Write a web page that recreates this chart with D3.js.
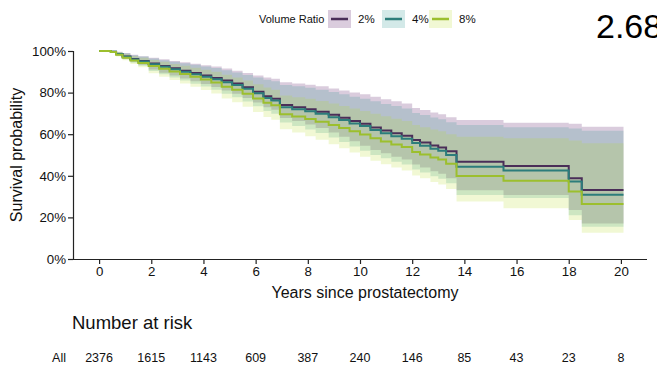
<!DOCTYPE html>
<html>
<head>
<meta charset="utf-8">
<script src="https://cdn.jsdelivr.net/npm/d3@7"></script>
<style>
  body { margin: 0; background: #fff; }
  svg { display: block; font-family: "Liberation Sans", Arial, sans-serif; }
</style>
</head>
<body>
<div id="chart"></div>
<script>
// step times (years) shared by the three model curves
const times = [0, 0.45, 0.65, 0.9, 1.2, 1.5, 1.9, 2.3, 2.7, 3.1, 3.5, 3.9, 4.3, 4.7, 5.1, 5.5, 5.9, 6.3, 6.6, 6.93,
  7.4, 7.9, 8.3, 8.8, 9.2, 9.6, 10.0, 10.4, 10.8, 11.2, 11.6, 12.0, 12.3, 12.7, 13.0, 13.3, 13.7, 15.5, 18.0, 18.5];
const endTime = 20.1;

// survival (%) for each volume ratio
const surv2 = [100, 99.6, 98.6, 97.4, 96.2, 95.2, 94.0, 92.8, 91.7, 90.5, 89.4, 88.2, 87.0, 85.8, 84.4, 82.6, 80.4, 78.2, 77.0, 74.0,
  73.0, 72.0, 70.8, 69.3, 67.9, 66.3, 65.0, 63.2, 61.8, 60.4, 59.2, 57.2, 56.0, 54.6, 53.6, 51.8, 46.8, 44.7, 38.8, 33.2];
const surv4 = [100, 99.6, 98.5, 97.2, 95.9, 94.9, 93.6, 92.4, 91.2, 90.0, 88.8, 87.6, 86.4, 85.0, 83.7, 81.9, 79.7, 77.4, 76.2, 73.0,
  72.0, 71.0, 69.8, 68.2, 66.8, 65.2, 63.9, 62.0, 60.5, 59.0, 57.8, 55.8, 54.5, 53.0, 52.0, 50.0, 44.4, 42.5, 37.2, 30.9];
const surv8 = [100, 99.5, 98.2, 96.8, 95.4, 94.2, 92.8, 91.5, 90.2, 88.9, 87.6, 86.3, 84.9, 82.8, 81.4, 79.5, 77.2, 75.1, 73.9, 69.6,
  68.5, 67.3, 66.0, 64.4, 63.0, 61.4, 59.8, 58.0, 56.5, 55.0, 53.8, 51.5, 50.3, 48.8, 47.8, 45.8, 39.9, 37.6, 32.4, 26.4];

// confidence bands (%)
const upper2 = [100, 100, 99.6, 99.0, 98.2, 97.5, 96.7, 96.0, 95.2, 94.6, 93.9, 93.2, 92.5, 91.6, 90.5, 89.4, 88.2, 87.2, 86.6, 85.0,
  84.4, 83.8, 83.0, 82.0, 81.0, 80.0, 79.2, 78.0, 76.8, 75.8, 74.8, 72.6, 71.6, 70.4, 69.6, 68.2, 66.8, 65.5, 65.0, 63.6];
const lower2 = [100, 99.2, 97.8, 96.3, 94.8, 93.4, 91.1, 89.6, 88.2, 86.8, 85.4, 84.1, 82.7, 81.0, 79.4, 77.4, 75.2, 73.0, 71.8, 67.8,
  66.3, 64.7, 63.0, 60.8, 58.8, 56.6, 54.4, 52.4, 50.8, 49.2, 47.8, 45.4, 44.0, 42.2, 41.0, 38.8, 33.0, 30.8, 23.6, 17.1];
const upper4 = [100, 100, 99.5, 98.9, 98.0, 97.3, 96.4, 95.6, 94.8, 94.1, 93.4, 92.6, 91.8, 90.8, 89.7, 88.5, 87.2, 86.2, 85.5, 83.7,
  83.0, 82.3, 81.4, 80.3, 79.2, 78.0, 77.1, 75.8, 74.5, 73.5, 72.4, 70.2, 69.2, 68.0, 67.2, 65.8, 64.4, 63.3, 62.8, 61.7];
const lower4 = [100, 99.1, 97.6, 96.0, 94.4, 92.9, 90.4, 88.8, 87.3, 85.8, 84.3, 82.9, 81.4, 79.5, 77.8, 75.7, 73.4, 71.1, 69.8, 65.6,
  64.0, 62.3, 60.6, 58.4, 56.3, 54.1, 52.0, 50.0, 48.4, 46.8, 45.4, 43.0, 41.6, 39.8, 38.6, 36.4, 30.8, 29.3, 21.0, 15.5];
const upper8 = [100, 100, 99.4, 98.6, 97.6, 96.8, 95.7, 94.8, 93.8, 92.9, 92.0, 91.0, 90.0, 88.6, 87.2, 85.8, 84.0, 82.4, 81.4, 78.6,
  77.8, 77.0, 76.0, 74.8, 73.6, 72.4, 71.2, 69.8, 68.6, 67.4, 66.4, 64.4, 63.4, 62.2, 61.4, 60.0, 58.8, 58.0, 57.0, 55.6];
const lower8 = [100, 99.0, 97.4, 95.6, 93.8, 92.2, 89.3, 87.6, 86.0, 84.4, 82.8, 81.3, 79.6, 77.2, 75.4, 73.2, 70.7, 68.3, 66.9, 62.4,
  60.8, 59.0, 57.3, 55.2, 53.2, 51.2, 49.2, 47.2, 45.6, 44.0, 42.6, 40.2, 38.8, 37.0, 35.8, 33.6, 27.6, 24.4, 18.8, 12.6];

const groups = ["2%", "4%", "8%"];
const lineColors = ["#4a2e58", "#2c7d7b", "#9cbf2e"];
const bandColors = ["#440154", "#21908c", "#b8de29"];

const xTicks = [0, 2, 4, 6, 8, 10, 12, 14, 16, 18, 20];
const atRisk = [2376, 1615, 1143, 609, 387, 240, 146, 85, 43, 23, 8];

const width = 657, height = 366;
const svg = d3.select("#chart").append("svg")
  .attr("width", width)
  .attr("height", height);

const x = d3.scaleLinear().domain([-1, 21]).range([73, 647]);
const y = d3.scaleLinear().domain([0, 1]).range([259, 51]);

// build series rows, adding the end point so the last step is drawn
function rows(s, lo, hi) {
  const r = times.map((t, i) => ({ t: t, s: s[i] / 100, lo: lo[i] / 100, hi: hi[i] / 100 }));
  const last = r[r.length - 1];
  r.push({ t: endTime, s: last.s, lo: last.lo, hi: last.hi });
  return r;
}
const series = [
  rows(surv2, lower2, upper2),
  rows(surv4, lower4, upper4),
  rows(surv8, lower8, upper8)
];

const area = d3.area()
  .curve(d3.curveStepAfter)
  .x(d => x(d.t))
  .y0(d => y(d.lo))
  .y1(d => y(d.hi));

const line = d3.line()
  .curve(d3.curveStepAfter)
  .x(d => x(d.t))
  .y(d => y(d.s));

// bands
svg.append("g").selectAll("path")
  .data(series)
  .join("path")
  .attr("d", area)
  .attr("fill", (d, i) => bandColors[i])
  .attr("fill-opacity", 0.2);

// survival curves
svg.append("g").selectAll("path")
  .data(series)
  .join("path")
  .attr("d", line)
  .attr("fill", "none")
  .attr("stroke", (d, i) => lineColors[i])
  .attr("stroke-width", 2);

// axes
const yAxis = svg.append("g")
  .attr("transform", "translate(73,0)")
  .call(d3.axisLeft(y).tickValues([0, 0.2, 0.4, 0.6, 0.8, 1]).tickFormat(d3.format(".0%")).tickSize(5).tickPadding(2));
const xAxis = svg.append("g")
  .attr("transform", "translate(0,259)")
  .call(d3.axisBottom(x).tickValues(xTicks).tickSize(5).tickPadding(3));

[xAxis, yAxis].forEach(g => {
  g.select(".domain").attr("stroke", "#222").attr("stroke-width", 1.2);
  g.selectAll(".tick line").attr("stroke", "#222").attr("stroke-width", 1.2);
  g.selectAll(".tick text").attr("fill", "#111").attr("font-size", 13.3)
    .attr("font-family", "Liberation Sans, Arial, sans-serif");
});
// axis lines without end caps
xAxis.select(".domain").attr("d", "M73,0.5H647");
yAxis.select(".domain").attr("d", "M0.5,51V259");

svg.append("text")
  .attr("transform", "translate(22,155) rotate(-90)")
  .attr("text-anchor", "middle")
  .attr("font-size", 16)
  .attr("fill", "#111")
  .text("Survival probability");

svg.append("text")
  .attr("x", 365)
  .attr("y", 298)
  .attr("text-anchor", "middle")
  .attr("font-size", 16)
  .attr("fill", "#111")
  .text("Years since prostatectomy");

// legend
const legend = svg.append("g");
legend.append("text")
  .attr("x", 259).attr("y", 23)
  .attr("font-size", 11)
  .attr("fill", "#111")
  .text("Volume Ratio");
const keyX = [328, 382, 429];
groups.forEach((g, i) => {
  legend.append("rect")
    .attr("x", keyX[i]).attr("y", 10)
    .attr("width", 23).attr("height", 18)
    .attr("fill", bandColors[i]).attr("fill-opacity", 0.2);
  legend.append("line")
    .attr("x1", keyX[i] + 3).attr("x2", keyX[i] + 20)
    .attr("y1", 19).attr("y2", 19)
    .attr("stroke", lineColors[i]).attr("stroke-width", 2.5);
  legend.append("text")
    .attr("x", keyX[i] + 30).attr("y", 23)
    .attr("font-size", 11.5)
    .attr("fill", "#111")
    .text(g);
});

// value shown at top right (partly outside the frame, as in the source)
svg.append("text")
  .attr("x", 596).attr("y", 38)
  .attr("font-size", 34)
  .attr("fill", "#000")
  .text("2.68");

// risk table
svg.append("text")
  .attr("x", 72).attr("y", 329)
  .attr("font-size", 18.5)
  .attr("fill", "#111")
  .text("Number at risk");

svg.append("text")
  .attr("x", 59).attr("y", 362)
  .attr("text-anchor", "middle")
  .attr("font-size", 12.5)
  .attr("fill", "#111")
  .text("All");

svg.append("g").selectAll("text")
  .data(atRisk)
  .join("text")
  .attr("x", (d, i) => x(xTicks[i]))
  .attr("y", 362)
  .attr("text-anchor", "middle")
  .attr("font-size", 12.5)
  .attr("fill", "#111")
  .text(d => d);
</script>
</body>
</html>
